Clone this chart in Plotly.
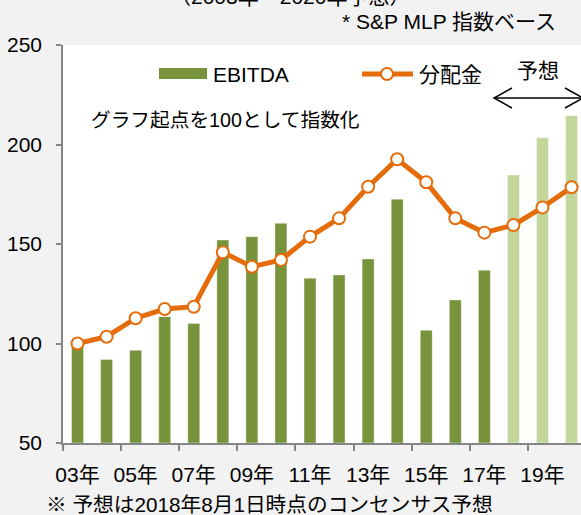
import plotly.graph_objects as go

# ---- data ----
years = ["03年", "04年", "05年", "06年", "07年", "08年", "09年", "10年", "11年",
         "12年", "13年", "14年", "15年", "16年", "17年", "18年", "19年", "20年"]
ebitda = [99, 92, 96.6, 113.5, 110, 152, 153.7, 160.4, 132.8,
          134.4, 142.5, 172.5, 106.6, 121.9, 136.8, 184.7, 203.4, 214.5]
distribution = [100, 103.4, 112.7, 117.3, 118.5, 145.8, 138.6, 142, 153.7,
                162.9, 178.8, 192.6, 181, 162.9, 155.7, 159.5, 168.4, 178.5]
is_forecast = [False] * 15 + [True] * 3

# ---- style ----
DARK_GREEN = "#77933C"
LIGHT_GREEN = "#C3D69B"
ORANGE = "#E46C0A"
AXIS_GREY = "#868686"
FONT = "Liberation Sans, Arial, 'Noto Sans CJK JP', sans-serif"

W, H = 581, 515
ML, MR, MT, MB = 63, 0, 45, 72
PW, PH = W - ML - MR, H - MT - MB


def px(x):
    return (x - ML) / PW


def py(y):
    return (H - MB - y) / PH


xs = list(range(len(years)))
bar_colors = [LIGHT_GREEN if f else DARK_GREEN for f in is_forecast]

fig = go.Figure()
fig.add_trace(go.Bar(
    x=xs, y=[v - 50 for v in ebitda], base=50, width=0.41,
    marker=dict(color=bar_colors, line=dict(color="rgba(255,255,255,0.35)", width=1)),
    name="EBITDA", showlegend=False, hoverinfo="skip"))
fig.add_trace(go.Scatter(
    x=xs, y=distribution, mode="lines+markers", name="分配金", showlegend=False,
    line=dict(color=ORANGE, width=5),
    marker=dict(size=12, color="white", line=dict(color=ORANGE, width=2)),
    cliponaxis=False))

fig.update_layout(
    width=W, height=H,
    margin=dict(l=ML, r=MR, t=MT, b=MB),
    paper_bgcolor="#F2F2F2", plot_bgcolor="white",
    font=dict(family=FONT, size=21, color="#000000"),
    showlegend=False,
)

fig.update_xaxes(
    range=[-0.5, -0.5 + PW / 29.06],
    tickmode="array", tickvals=xs[::2], ticktext=years[::2],
    ticks="", showgrid=False, zeroline=False,
    showline=True, linecolor=AXIS_GREY, linewidth=1.5,
    tickfont=dict(size=21, family=FONT),
    ticklabelstandoff=12,
    minor=dict(tickmode="array", tickvals=[i - 0.5 for i in xs[::2]],
               ticks="outside", ticklen=6, tickcolor=AXIS_GREY, tickwidth=1.5,
               showgrid=False),
)
fig.update_yaxes(
    range=[50, 250], dtick=50, tick0=50,
    ticks="outside", ticklen=5, tickcolor=AXIS_GREY, tickwidth=1.5,
    showline=True, linecolor=AXIS_GREY, linewidth=1.5,
    showgrid=False, zeroline=False,
    tickfont=dict(size=21, family=FONT),
    ticklabelstandoff=10,
)

annotations = [
    dict(text="（2003年～2020年予想）", x=px(290), y=py(-3), xanchor="center", yanchor="middle", size=21),
    dict(text="* S&P MLP 指数ベース", x=px(340), y=py(22), xanchor="left", yanchor="middle", size=21),
    dict(text="EBITDA", x=px(211), y=py(74), xanchor="left", yanchor="middle", size=21),
    dict(text="分配金", x=px(417), y=py(74), xanchor="left", yanchor="middle", size=21),
    dict(text="予想", x=px(538), y=py(71), xanchor="center", yanchor="middle", size=21),
    dict(text="グラフ起点を100として指数化", x=px(89), y=py(120), xanchor="left", yanchor="middle", size=19.7),
    dict(text="※ 予想は2018年8月1日時点のコンセンサス予想", x=px(44), y=py(505),
         xanchor="left", yanchor="middle", size=20.7),
]
for a in annotations:
    sz = a.pop("size")
    a.update(xref="paper", yref="paper", showarrow=False,
             font=dict(family=FONT, size=sz, color="#000000"))
fig.update_layout(annotations=annotations)

shapes = [
    # legend: EBITDA swatch
    dict(type="rect", x0=px(159), x1=px(207), y0=py(68), y1=py(79),
         fillcolor=DARK_GREEN, line=dict(width=0)),
    # legend: distribution line + marker
    dict(type="line", x0=px(362), x1=px(413), y0=py(74), y1=py(74),
         line=dict(color=ORANGE, width=5)),
    dict(type="circle", x0=px(381), x1=px(393), y0=py(68), y1=py(80),
         fillcolor="white", line=dict(color=ORANGE, width=2)),
    # forecast double arrow
    dict(type="line", x0=px(494), x1=px(583), y0=py(98), y1=py(98),
         line=dict(color="black", width=1.5)),
    dict(type="path", path=f"M {px(512)},{py(88)} L {px(494)},{py(98)} L {px(512)},{py(108)}",
         line=dict(color="black", width=1.5)),
    dict(type="path", path=f"M {px(565)},{py(88)} L {px(583)},{py(98)} L {px(565)},{py(108)}",
         line=dict(color="black", width=1.5)),
]
for s in shapes:
    s.update(xref="paper", yref="paper", layer="above")
fig.update_layout(shapes=shapes)

fig.write_html(
    "out.html",
    config={"displayModeBar": False},
    post_script="document.body.style.margin='0';document.body.style.padding='0';"
                "document.body.style.overflow='hidden';document.body.style.background='#F2F2F2';",
)
